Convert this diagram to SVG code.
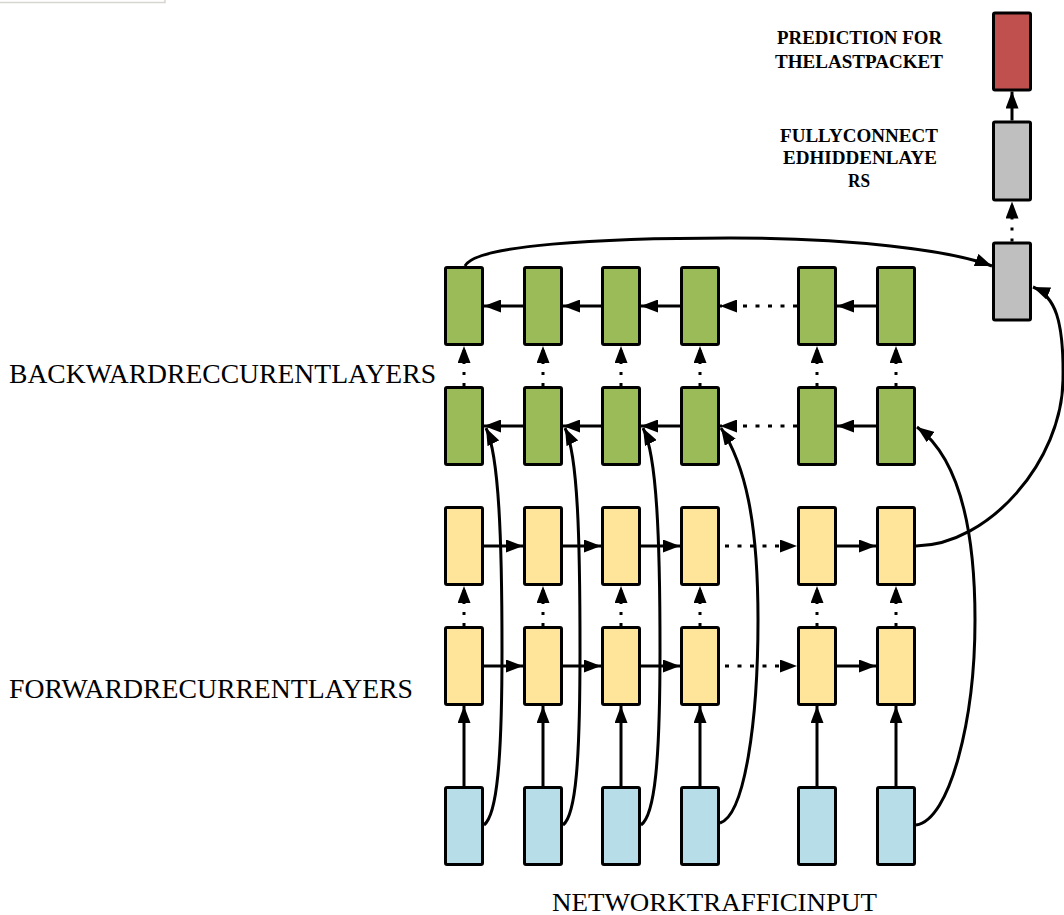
<svg xmlns="http://www.w3.org/2000/svg" width="1064" height="915" viewBox="0 0 1064 915">
<style>
.box{stroke:#000;stroke-width:3;rx:1.5}
.g{fill:#9BBB59}.y{fill:#FEE599}.c{fill:#B7DDE8}.gr{fill:#BFBFBF}.r{fill:#C0504D}
.ln{stroke:#000;stroke-width:3;fill:none;marker-end:url(#ah)}
.dot{stroke-dasharray:4 8.5}
.vd{stroke-dasharray:3 8}
.lab{font-family:"Liberation Serif","Times New Roman",serif;font-size:27px;fill:#000}
.bl{font-family:"Liberation Serif","Times New Roman",serif;font-size:19px;font-weight:bold;fill:#000}
</style>
<defs>
<marker id="ah" markerUnits="userSpaceOnUse" viewBox="0 0 17 13" refX="17" refY="6.5" markerWidth="17" markerHeight="13" orient="auto">
<path d="M0,0 L17,6.5 L0,13 z" fill="#000"/>
</marker>
</defs>
<rect width="1064" height="915" fill="#fff"/>
<path d="M0,2.5 L165,2.5 L165,0" stroke="#d8d5cf" stroke-width="1.5" fill="none"/>

<g id="labels">
<text class="lab" x="9" y="383" textLength="427" lengthAdjust="spacingAndGlyphs">BACKWARDRECCURENTLAYERS</text>
<text class="lab" x="9" y="698" textLength="404" lengthAdjust="spacingAndGlyphs">FORWARDRECURRENTLAYERS</text>
<text class="lab" x="552" y="911" textLength="325" lengthAdjust="spacingAndGlyphs" style="font-size:26px">NETWORKTRAFFICINPUT</text>
<text class="bl" x="777" y="44" textLength="165" lengthAdjust="spacingAndGlyphs">PREDICTION FOR</text>
<text class="bl" x="775" y="68" textLength="168" lengthAdjust="spacingAndGlyphs">THELASTPACKET</text>
<text class="bl" x="780" y="141.5" textLength="158" lengthAdjust="spacingAndGlyphs">FULLYCONNECT</text>
<text class="bl" x="783" y="164" textLength="154" lengthAdjust="spacingAndGlyphs">EDHIDDENLAYE</text>
<text class="bl" x="848" y="187" textLength="22" lengthAdjust="spacingAndGlyphs">RS</text>
</g>

<g id="connectors">
<path class="ln" d="M523,306 L484,306"/>
<path class="ln" d="M601,306 L563,306"/>
<path class="ln" d="M680,306 L641,306"/>
<path class="ln dot" d="M797,306 L720,306"/>
<path class="ln" d="M876,306 L837,306"/>
<path class="ln" d="M523,426 L484,426"/>
<path class="ln" d="M601,426 L563,426"/>
<path class="ln" d="M680,426 L641,426"/>
<path class="ln dot" d="M797,426 L720,426"/>
<path class="ln" d="M876,426 L837,426"/>
<path class="ln" d="M484,546 L523,546"/>
<path class="ln" d="M563,546 L601,546"/>
<path class="ln" d="M641,546 L680,546"/>
<path class="ln dot" d="M725,546 L797,546"/>
<path class="ln" d="M837,546 L876,546"/>
<path class="ln" d="M484,666 L523,666"/>
<path class="ln" d="M563,666 L601,666"/>
<path class="ln" d="M641,666 L680,666"/>
<path class="ln dot" d="M725,666 L797,666"/>
<path class="ln" d="M837,666 L876,666"/>
<path class="ln" d="M464,786 L464,706"/>
<path class="ln" d="M543,786 L543,706"/>
<path class="ln" d="M621,786 L621,706"/>
<path class="ln" d="M700,786 L700,706"/>
<path class="ln" d="M817,786 L817,706"/>
<path class="ln" d="M896,786 L896,706"/>
<path class="ln vd" d="M464,626 L464,586"/>
<path class="ln vd" d="M543,626 L543,586"/>
<path class="ln vd" d="M621,626 L621,586"/>
<path class="ln vd" d="M700,626 L700,586"/>
<path class="ln vd" d="M817,626 L817,586"/>
<path class="ln vd" d="M896,626 L896,586"/>
<path class="ln vd" d="M464,386 L464,346"/>
<path class="ln vd" d="M543,386 L543,346"/>
<path class="ln vd" d="M621,386 L621,346"/>
<path class="ln vd" d="M700,386 L700,346"/>
<path class="ln vd" d="M817,386 L817,346"/>
<path class="ln vd" d="M896,386 L896,346"/>
<path class="ln vd" d="M1012,241.5 L1012,201.5"/>
<path class="ln" d="M1012,120.5 L1012,91.5"/>
<path class="ln" d="M484,825 C497,815 502,760 502,650 C502,540 499,455 486,428"/>
<path class="ln" d="M563,825 C576,815 580,760 580,650 C580,540 578,455 565,428"/>
<path class="ln" d="M641,825 C655,815 660,760 660,650 C660,540 657,455 643,428"/>
<path class="ln" d="M720,823 C745,815 758,720 758,620 C758,520 745,465 721,428"/>
<path class="ln" d="M916,825 C950,820 975,720 975,620 C975,520 955,455 917,427"/>
<path class="ln" d="M465,266 C475,245 600,238 730,238 C850,238 950,250 992,266"/>
<path class="ln" d="M916,546 C990,545 1062,460 1063,380 C1064,320 1055,296 1033,287"/>
</g>

<g id="backward-top">
<rect class="box g" x="445.5" y="267.5" width="37" height="77"/>
<rect class="box g" x="524.5" y="267.5" width="37" height="77"/>
<rect class="box g" x="602.5" y="267.5" width="37" height="77"/>
<rect class="box g" x="681.5" y="267.5" width="37" height="77"/>
<rect class="box g" x="798.5" y="267.5" width="37" height="77"/>
<rect class="box g" x="877.5" y="267.5" width="37" height="77"/>
</g>
<g id="backward-bottom">
<rect class="box g" x="445.5" y="387.5" width="37" height="77"/>
<rect class="box g" x="524.5" y="387.5" width="37" height="77"/>
<rect class="box g" x="602.5" y="387.5" width="37" height="77"/>
<rect class="box g" x="681.5" y="387.5" width="37" height="77"/>
<rect class="box g" x="798.5" y="387.5" width="37" height="77"/>
<rect class="box g" x="877.5" y="387.5" width="37" height="77"/>
</g>
<g id="forward-top">
<rect class="box y" x="445.5" y="507.5" width="37" height="77"/>
<rect class="box y" x="524.5" y="507.5" width="37" height="77"/>
<rect class="box y" x="602.5" y="507.5" width="37" height="77"/>
<rect class="box y" x="681.5" y="507.5" width="37" height="77"/>
<rect class="box y" x="798.5" y="507.5" width="37" height="77"/>
<rect class="box y" x="877.5" y="507.5" width="37" height="77"/>
</g>
<g id="forward-bottom">
<rect class="box y" x="445.5" y="627.5" width="37" height="77"/>
<rect class="box y" x="524.5" y="627.5" width="37" height="77"/>
<rect class="box y" x="602.5" y="627.5" width="37" height="77"/>
<rect class="box y" x="681.5" y="627.5" width="37" height="77"/>
<rect class="box y" x="798.5" y="627.5" width="37" height="77"/>
<rect class="box y" x="877.5" y="627.5" width="37" height="77"/>
</g>
<g id="input">
<rect class="box c" x="445.5" y="787.5" width="37" height="77"/>
<rect class="box c" x="524.5" y="787.5" width="37" height="77"/>
<rect class="box c" x="602.5" y="787.5" width="37" height="77"/>
<rect class="box c" x="681.5" y="787.5" width="37" height="77"/>
<rect class="box c" x="798.5" y="787.5" width="37" height="77"/>
<rect class="box c" x="877.5" y="787.5" width="37" height="77"/>
</g>
<g id="dense-merge"><rect class="box gr" x="993.5" y="243" width="37" height="77"/></g>
<g id="dense-hidden"><rect class="box gr" x="993.5" y="122" width="37" height="78"/></g>
<g id="prediction"><rect class="box r" x="993.5" y="13" width="37" height="77"/></g>
</svg>
